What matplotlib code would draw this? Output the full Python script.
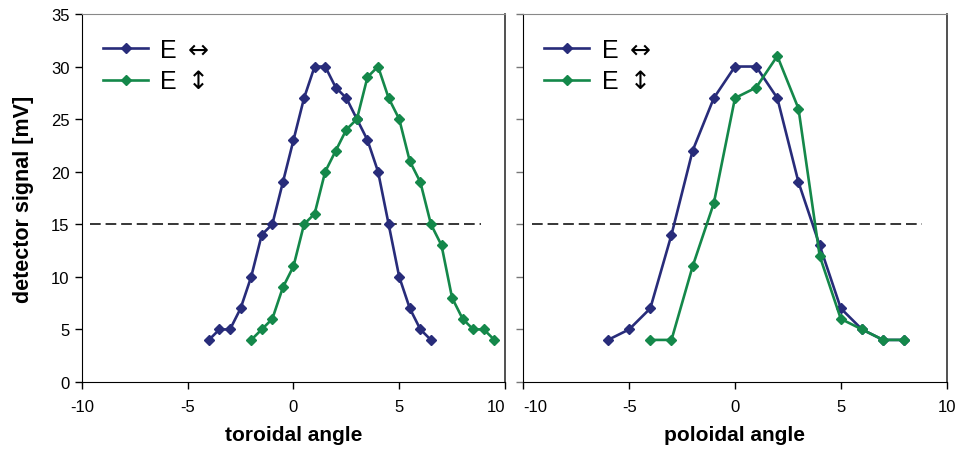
import matplotlib
matplotlib.use("Agg")
from matplotlib import pyplot as plt

plt.rcParams['font.family'] = ['Liberation Sans', 'DejaVu Sans']
plt.rcParams['axes.unicode_minus'] = False

# toroidal scan
tor_h_x = [-4, -3.5, -3, -2.5, -2, -1.5, -1, -0.5, 0, 0.5, 1, 1.5, 2, 2.5, 3, 3.5, 4, 4.5, 5, 5.5, 6, 6.5]
tor_h_y = [4, 5, 5, 7, 10, 14, 15, 19, 23, 27, 30, 30, 28, 27, 25, 23, 20, 15, 10, 7, 5, 4]
tor_v_x = [-2, -1.5, -1, -0.5, 0, 0.5, 1, 1.5, 2, 2.5, 3, 3.5, 4, 4.5, 5, 5.5, 6, 6.5, 7, 7.5, 8, 8.5, 9, 9.5]
tor_v_y = [4, 5, 6, 9, 11, 15, 16, 20, 22, 24, 25, 29, 30, 27, 25, 21, 19, 15, 13, 8, 6, 5, 5, 4]

# poloidal scan
pol_h_x = [-6, -5, -4, -3, -2, -1, 0, 1, 2, 3, 4, 5, 6, 7, 8]
pol_h_y = [4, 5, 7, 14, 22, 27, 30, 30, 27, 19, 13, 7, 5, 4, 4]
pol_v_x = [-4, -3, -2, -1, 0, 1, 2, 3, 4, 5, 6, 7, 8]
pol_v_y = [4, 4, 11, 17, 27, 28, 31, 26, 12, 6, 5, 4, 4]

half_x = [-9.6, 8.85]
half_y = [15, 15]

blue = "#282C7A"
green = "#14884A"

fig = plt.figure(figsize=(9.6, 4.52), dpi=100)
ax1 = fig.add_axes([0.0854, 0.1527, 0.4406, 0.8142])
ax2 = fig.add_axes([0.5451, 0.1527, 0.4410, 0.8142])

panels = [
    (ax1, tor_h_x, tor_h_y, tor_v_x, tor_v_y, "toroidal angle"),
    (ax2, pol_h_x, pol_h_y, pol_v_x, pol_v_y, "poloidal angle"),
]

for i, (ax, hx, hy, vx, vy, xlab) in enumerate(panels):
    ax.plot(half_x, half_y, color="black", lw=1.1, dashes=(7, 3.2))
    ax.plot(hx, hy, color=blue, lw=1.9, marker="D", ms=5.5, label=r"E $\leftrightarrow$")
    ax.plot(vx, vy, color=green, lw=1.9, marker="D", ms=5.5, label=r"E $\updownarrow$")
    ax.set_xlim(-10, 10)
    ax.set_ylim(0, 35)
    ax.set_xticks([-10, -5, 0, 5, 10])
    ax.set_yticks(range(0, 36, 5))
    ax.tick_params(direction="out", length=5, labelsize=12, width=1)
    ax.tick_params(axis="x", pad=7)
    ax.tick_params(axis="y", pad=4)
    ax.set_xlabel(xlab, fontsize=15, fontweight="bold", labelpad=8)
    ax.spines["top"].set_color("#888888")
    ax.spines["right"].set_color("#333333")
    ax.spines["right"].set_linewidth(1.2)
    ax.legend(loc="upper left", bbox_to_anchor=(0.05, 0.935), frameon=False,
              fontsize=18, handlelength=1.8, handletextpad=0.45,
              labelspacing=0.3, borderpad=0, borderaxespad=0)
    if i == 0:
        ax.set_ylabel("detector signal [mV]", fontsize=15.5, fontweight="bold", labelpad=12)
    else:
        ax.tick_params(axis="y", labelleft=False, color="#777777")

# keep the edge labels at the panel gap apart, as in the original
ax1.get_xticklabels()[-1].set_horizontalalignment("right")
ax2.get_xticklabels()[0].set_horizontalalignment("left")

fig.savefig("out.png", dpi=100)
